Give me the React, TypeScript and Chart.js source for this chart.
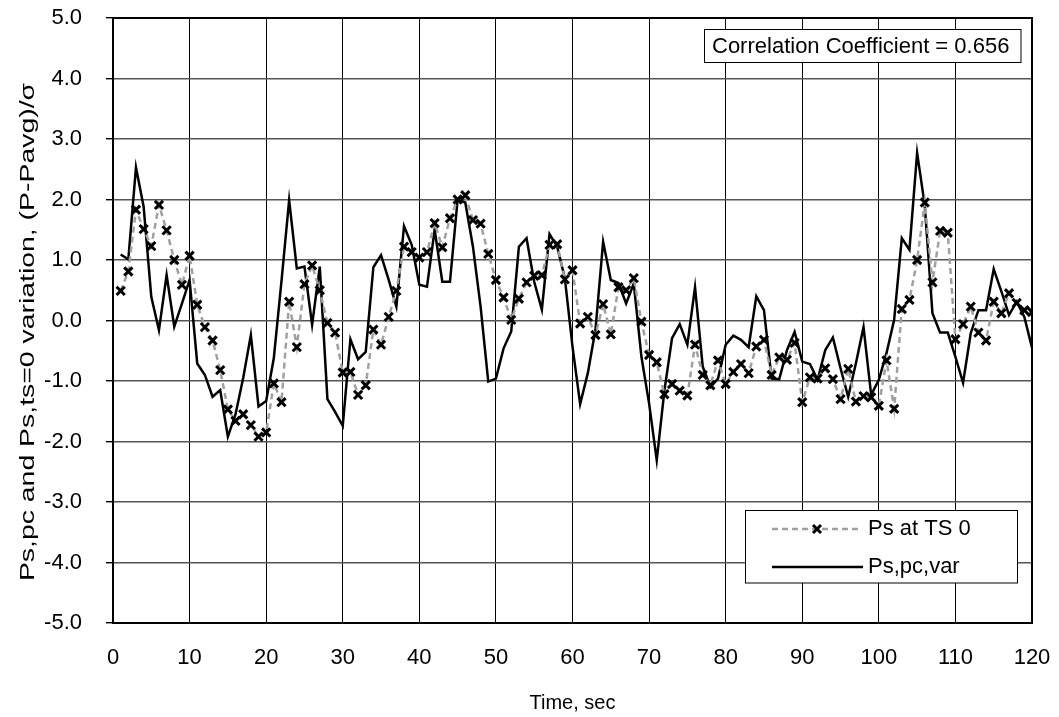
import React, { useEffect, useRef } from 'react';
import { Chart, registerables } from 'chart.js';

Chart.register(...registerables);

const times = [
  1, 2, 3, 4, 5, 6, 7, 8, 9, 10, 11, 12, 13, 14, 15, 16, 17, 18, 19, 20,
  21, 22, 23, 24, 25, 26, 27, 28, 29, 30, 31, 32, 33, 34, 35, 36, 37, 38, 39, 40,
  41, 42, 43, 44, 45, 46, 47, 48, 49, 50, 51, 52, 53, 54, 55, 56, 57, 58, 59, 60,
  61, 62, 63, 64, 65, 66, 67, 68, 69, 70, 71, 72, 73, 74, 75, 76, 77, 78, 79, 80,
  81, 82, 83, 84, 85, 86, 87, 88, 89, 90, 91, 92, 93, 94, 95, 96, 97, 98, 99, 100,
  101, 102, 103, 104, 105, 106, 107, 108, 109, 110, 111, 112, 113, 114, 115, 116, 117, 118, 119, 120,
];

const psTs0 = [
  0.49, 0.81, 1.83, 1.51, 1.23, 1.91, 1.49, 1.0, 0.59, 1.07,
  0.26, -0.11, -0.33, -0.82, -1.47, -1.66, -1.55, -1.73, -1.92, -1.85,
  -1.04, -1.35, 0.31, -0.44, 0.6, 0.91, 0.5, -0.04, -0.2, -0.86,
  -0.85, -1.23, -1.07, -0.15, -0.4, 0.06, 0.49, 1.22, 1.13, 1.04,
  1.13, 1.61, 1.21, 1.69, 2.0, 2.07, 1.66, 1.6, 1.1, 0.67,
  0.38, 0.01, 0.36, 0.63, 0.74, 0.75, 1.25, 1.26, 0.68, 0.83,
  -0.05, 0.06, -0.24, 0.27, -0.23, 0.55, 0.5, 0.7, -0.02, -0.57,
  -0.69, -1.22, -1.05, -1.16, -1.24, -0.4, -0.9, -1.07, -0.66, -1.05,
  -0.85, -0.72, -0.87, -0.43, -0.32, -0.9, -0.61, -0.65, -0.37, -1.35,
  -0.94, -0.96, -0.79, -0.97, -1.3, -0.8, -1.34, -1.25, -1.27, -1.41,
  -0.66, -1.46, 0.19, 0.34, 1.0, 1.95, 0.63, 1.48, 1.45, -0.31,
  -0.06, 0.23, -0.2, -0.33, 0.31, 0.12, 0.45, 0.29, 0.17, 0.14,
];

const psPcVar = [
  1.09, 1.01, 2.53, 1.88, 0.39, -0.16, 0.75, -0.1, 0.28, 0.67,
  -0.71, -0.9, -1.26, -1.15, -1.92, -1.55, -0.95, -0.24, -1.42, -1.33,
  -0.62, 0.65, 1.99, 0.86, 0.89, -0.07, 0.89, -1.3, -1.51, -1.74,
  -0.31, -0.64, -0.52, 0.88, 1.08, 0.67, 0.23, 1.56, 1.25, 0.59,
  0.56, 1.5, 0.64, 0.64, 2.0, 1.95, 1.22, 0.23, -1.01, -0.96,
  -0.46, -0.18, 1.22, 1.36, 0.64, 0.18, 1.43, 1.22, 0.7, -0.43,
  -1.38, -0.87, -0.15, 1.3, 0.67, 0.62, 0.28, 0.61, -0.6, -1.37,
  -2.31, -1.16, -0.29, -0.06, -0.4, 0.55, -0.76, -1.1, -0.96, -0.4,
  -0.25, -0.32, -0.44, 0.4, 0.17, -0.96, -0.97, -0.49, -0.19, -0.68,
  -0.72, -0.98, -0.49, -0.28, -0.79, -1.26, -0.71, -0.11, -1.23, -0.98,
  -0.54, 0.01, 1.36, 1.17, 2.77, 1.9, 0.12, -0.2, -0.2, -0.6,
  -1.03, -0.21, 0.17, 0.17, 0.85, 0.48, 0.09, 0.31, 0.06, -0.45,
];

const seriesLabels = ['Ps at TS 0', 'Ps,pc,var'];
const annotationText = 'Correlation Coefficient = 0.656';
const xTitle = 'Time, sec';
const yTitle = 'Ps,pc and Ps,ts=0 variation, (P-Pavg)/\u03C3';

const FONT_FAMILY = "'Liberation Sans', Arial, Helvetica, sans-serif";
const FONT_SIZE = 22;
const GRAY = '#a0a0a0';

const overlayPlugin = {
  id: 'overlay',
  afterDraw(chart: any) {
    const { ctx, chartArea: a } = chart;
    ctx.save();
    // plot frame
    ctx.strokeStyle = '#000';
    ctx.lineWidth = 2;
    ctx.setLineDash([]);
    ctx.strokeRect(a.left, a.top, a.right - a.left, a.bottom - a.top);

    ctx.fillStyle = '#000';

    // axis titles
    ctx.font = `20px ${FONT_FAMILY}`;
    ctx.textAlign = 'center';
    ctx.textBaseline = 'middle';
    ctx.fillText(xTitle, (a.left + a.right) / 2, 703);
    ctx.save();
    ctx.translate(28, 332);
    ctx.rotate(-Math.PI / 2);
    ctx.scale(1.42, 1);
    ctx.fillText(yTitle, 0, 0);
    ctx.restore();

    ctx.font = `${FONT_SIZE}px ${FONT_FAMILY}`;
    // correlation annotation box
    ctx.fillStyle = '#fff';
    ctx.fillRect(704, 29.5, 317, 33);
    ctx.strokeStyle = '#000';
    ctx.lineWidth = 1;
    ctx.strokeRect(704.5, 29.5, 316.5, 33);
    ctx.fillStyle = '#000';
    ctx.textAlign = 'left';
    ctx.textBaseline = 'middle';
    ctx.fillText(annotationText, 712, 47);

    // legend box
    const lx = 745.5, ly = 510.5, lw = 272, lh = 72.5;
    ctx.fillStyle = '#fff';
    ctx.fillRect(lx, ly, lw, lh);
    ctx.strokeStyle = '#000';
    ctx.lineWidth = 1;
    ctx.strokeRect(lx, ly, lw, lh);

    const r1 = 529, r2 = 567;
    // row 1: dashed gray with cross marker
    ctx.strokeStyle = GRAY;
    ctx.lineWidth = 2.5;
    ctx.setLineDash([6, 4]);
    ctx.beginPath();
    ctx.moveTo(772, r1);
    ctx.lineTo(858, r1);
    ctx.stroke();
    ctx.setLineDash([]);
    ctx.strokeStyle = '#000';
    ctx.lineWidth = 3;
    const mx = 817, s = 4;
    ctx.beginPath();
    ctx.moveTo(mx - s, r1 - s);
    ctx.lineTo(mx + s, r1 + s);
    ctx.moveTo(mx - s, r1 + s);
    ctx.lineTo(mx + s, r1 - s);
    ctx.stroke();
    // row 2: solid black
    ctx.lineWidth = 2.5;
    ctx.beginPath();
    ctx.moveTo(772, r2);
    ctx.lineTo(863, r2);
    ctx.stroke();

    ctx.fillStyle = '#000';
    ctx.textAlign = 'left';
    ctx.textBaseline = 'middle';
    ctx.fillText(seriesLabels[0], 868, r1);
    ctx.fillText(seriesLabels[1], 868, r2);
    ctx.restore();
  },
};

const zeroPad = (s: any) => {
  s.paddingTop = 0;
  s.paddingBottom = 0;
  s.paddingLeft = 0;
  s.paddingRight = 0;
};

export default function App() {
  const canvasRef = useRef<HTMLCanvasElement | null>(null);

  useEffect(() => {
    const canvas = canvasRef.current;
    if (!canvas) return;
    const font = { family: FONT_FAMILY, size: FONT_SIZE };
    const chart = new Chart(canvas, {
      type: 'line',
      data: {
        datasets: [
          {
            label: seriesLabels[0],
            data: times.map((t, i) => ({ x: t, y: psTs0[i] })),
            borderColor: GRAY,
            borderWidth: 2.5,
            borderDash: [6, 4],
            pointStyle: 'crossRot',
            pointRadius: 5.8,
            pointBorderWidth: 3,
            pointBorderColor: '#000',
            pointBackgroundColor: '#000',
            tension: 0,
            fill: false,
            order: 0,
          },
          {
            label: seriesLabels[1],
            data: times.map((t, i) => ({ x: t, y: psPcVar[i] })),
            borderColor: '#000',
            borderWidth: 2.5,
            pointRadius: 0,
            tension: 0,
            fill: false,
            order: 1,
          },
        ],
      },
      options: {
        responsive: false,
        animation: false,
        devicePixelRatio: 1,
        layout: { padding: { left: 0, right: 27, top: 18, bottom: 0 } },
        plugins: {
          legend: { display: false },
          tooltip: { enabled: false },
          title: { display: false },
        },
        scales: {
          x: {
            type: 'linear',
            min: 0,
            max: 120,
            ticks: {
              stepSize: 10,
              font,
              color: '#000',
              padding: 22,
              maxRotation: 0,
              autoSkip: false,
            },
            grid: { color: '#000', lineWidth: 1, drawTicks: false },
            border: { display: false },
            afterFit: (s: any) => {
              s.height = 94;
              zeroPad(s);
            },
          },
          y: {
            type: 'linear',
            min: -5,
            max: 5,
            ticks: {
              stepSize: 1,
              font,
              color: '#000',
              padding: 24,
              callback: (v: any) => Number(v).toFixed(1),
            },
            grid: {
              color: '#555555',
              lineWidth: 1.4,
              drawTicks: true,
              tickLength: 7,
              tickColor: '#000',
            },
            border: { display: false },
            afterFit: (s: any) => {
              s.width = 113;
              zeroPad(s);
            },
          },
        },
      },
      plugins: [overlayPlugin],
    } as any);
    return () => {
      chart.destroy();
    };
  }, []);

  return (
    <div style={{ position: 'absolute', left: 0, top: 0, width: 1059, height: 717, background: '#fff' }}>
      <canvas ref={canvasRef} width={1059} height={717} style={{ display: 'block' }} />
    </div>
  );
}
